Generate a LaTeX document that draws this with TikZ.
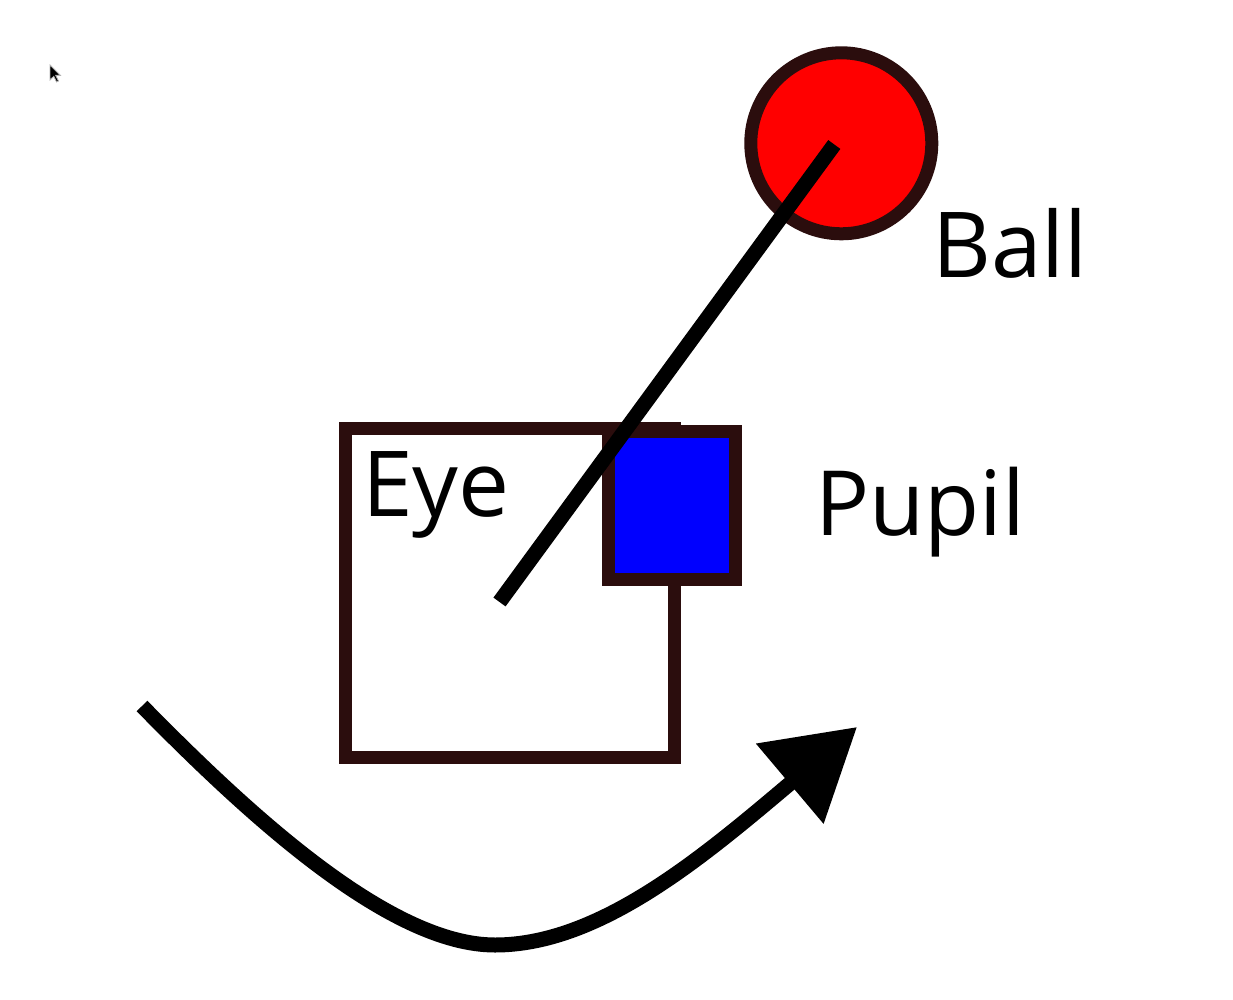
\documentclass[tikz,border=0pt]{standalone}
\usepackage{fontspec}
\setmainfont{Open Sans}
\usetikzlibrary{arrows.meta}
\definecolor{edgebrown}{RGB}{43,13,13}
\tikzset{
  shapebox/.style={draw=edgebrown, line width=13pt, inner sep=0pt},
  label/.style={inner sep=0pt, anchor=base west, text=black},
  thickline/.style={line width=15pt, black},
}
\begin{document}
\begin{tikzpicture}[x=1pt,y=-1pt]
\useasboundingbox (0,0) rectangle (1233,1000);
% cursor
\fill[black, draw=gray!60, line width=0.8pt] (50,65) -- (50,80) -- (53.8,76.3) -- (56.6,82) -- (58.5,81) -- (55.7,75.4) -- (60.4,75.4) -- cycle;
% eye
\node[shapebox, fill=white, minimum width=329.5pt, minimum height=329pt] (eye) at (509.75,593) {};
% pupil
\node[shapebox, fill=blue, minimum width=127pt, minimum height=148pt] (pupil) at (672.4,505) {};
% ball
\node[shapebox, circle, fill=red, minimum size=181pt] (ball) at (841.3,143.3) {};
% labels
\node[label, font=\fontsize{91}{91}\selectfont] (balltxt) at (932,277.7) {Ball};
\node[label, font=\fontsize{90}{90}\selectfont] (pupiltxt) at (815,535) {Pupil};
\node[label, font=\fontsize{91}{91}\selectfont] (eyetxt) at (362,516.7) {Eye};
% sight line
\coordinate (lineA) at (499.5,602);
\coordinate (lineB) at (834.3,144.5);
\draw[thickline] (lineA) -- (lineB);
% curved arrow
\coordinate (cstart) at (142,706);
\coordinate (cmid) at (495,945);
\coordinate (ctip) at (857,727);
\draw[thickline, -{Triangle[length=88pt,width=101pt]}] (cstart) .. controls (250,816) and (390,945) .. (cmid) .. controls (600,945) and (704,856) .. (ctip);
\end{tikzpicture}
\end{document}
